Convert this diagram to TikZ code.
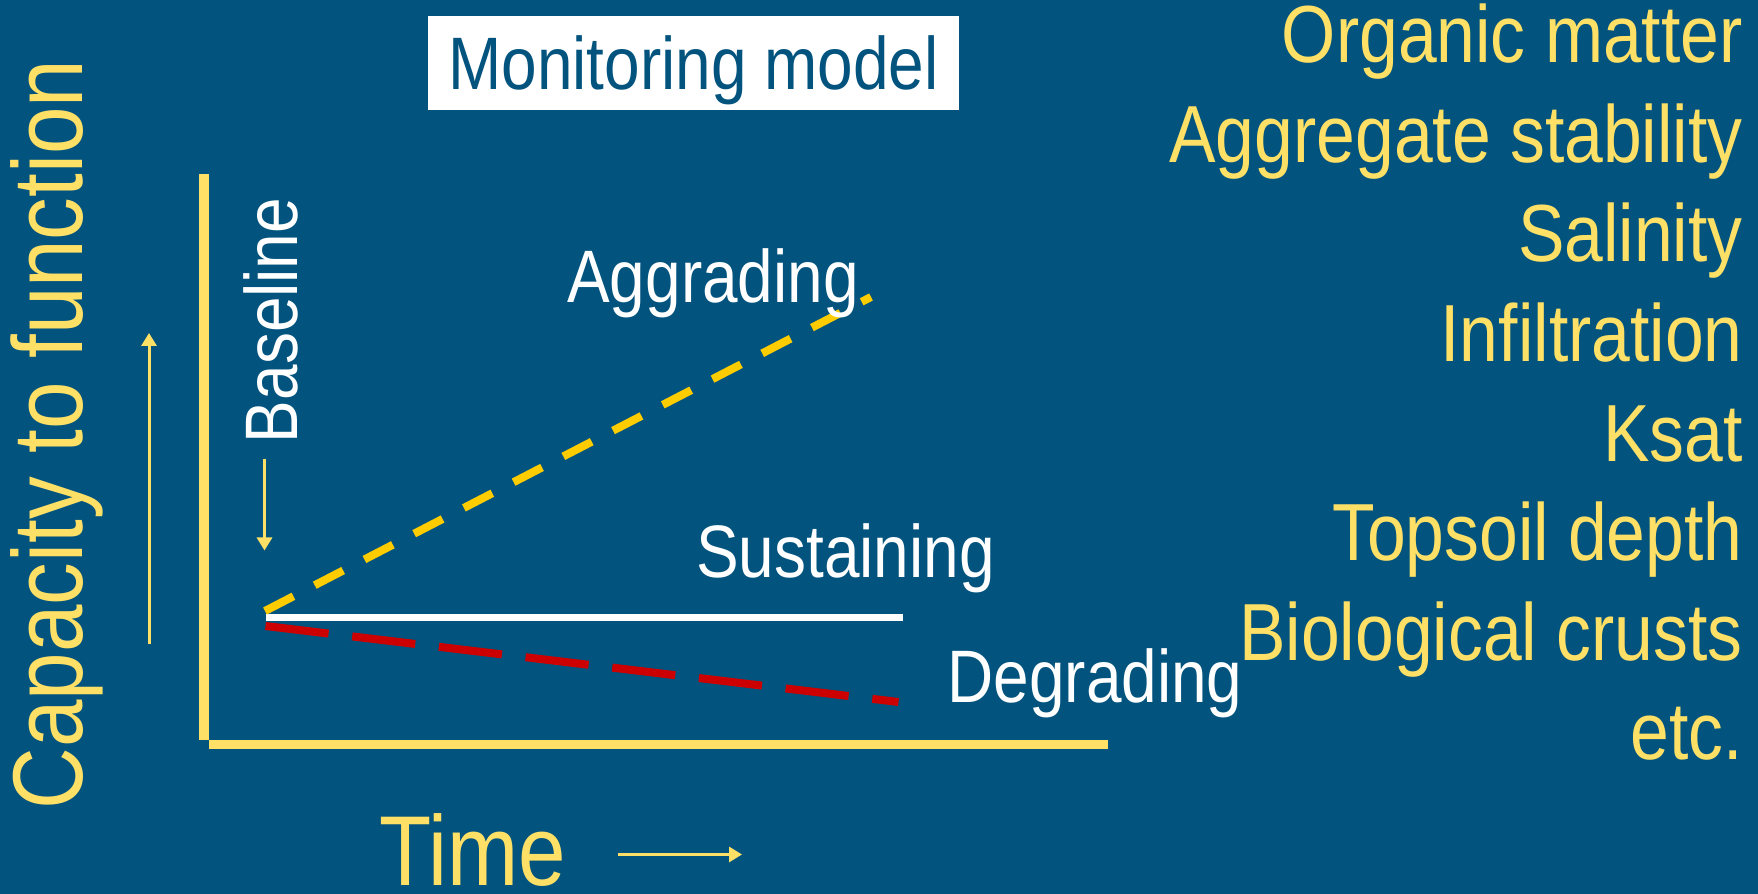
\documentclass[tikz,border=0pt]{standalone}
\usepackage{fontspec}
\setmainfont[FakeStretch=0.86]{Liberation Sans}
\usetikzlibrary{arrows.meta}
\definecolor{slideblue}{RGB}{2,84,126}
\definecolor{softyellow}{RGB}{255,224,102}
\definecolor{aggyellow}{RGB}{255,204,0}
\definecolor{degred}{RGB}{204,0,0}

\begin{document}
\begin{tikzpicture}[
	curvelabel/.style={white,font=\fontsize{42.3}{50}\selectfont,inner sep=0pt,anchor=base},
	indicator/.style={softyellow,font=\fontsize{46.1}{55}\selectfont,inner sep=0pt,anchor=base east},
	axislabel/.style={softyellow,font=\fontsize{56.5}{66}\selectfont,inner sep=0pt,anchor=base},
	thinarrow/.style={softyellow,line width=0.06cm,-{Triangle[width=0.3cm,length=0.26cm]}}]
		\useasboundingbox(0,0)rectangle(35.16,17.88);
		\fill[slideblue](0,0)rectangle(35.16,17.88);
		% axes
		\draw[softyellow,line width=0.2cm](4.08,14.4)--(4.08,3.07);
		\draw[softyellow,line width=0.18cm](4.18,2.98)--(22.16,2.98);
		\node[axislabel,rotate=90](capacity)at(1.64,9.19){Capacity to function};
		\node[axislabel](time)at(9.45,0.17){Time};
		\coordinate(upfrom)at(2.98,4.99);
		\coordinate(upto)at(2.98,11.22);
		\draw[thinarrow](upfrom)--(upto);
		\coordinate(timefrom)at(12.36,0.79);
		\coordinate(timeto)at(14.84,0.79);
		\draw[thinarrow](timefrom)--(timeto);
		% title box
		\node[fill=white,text=slideblue,font=\fontsize{42.3}{50}\selectfont,inner sep=0pt,
			text height=1.065cm,text depth=0pt,minimum width=10.62cm,minimum height=1.88cm,anchor=base]
			(title)at(13.87,16.09){Monitoring model};
		% baseline and the three paths
		\node[curvelabel,rotate=90,anchor=base](baseline)at(5.95,11.47){Baseline};
		\coordinate(basefrom)at(5.29,8.69);
		\coordinate(baseto)at(5.29,6.87);
		\draw[thinarrow](basefrom)--(baseto);
		\coordinate(aggstart)at(5.30,5.66);
		\coordinate(aggend)at(17.42,11.94);
		\coordinate(susstart)at(5.31,5.52);
		\coordinate(susend)at(18.05,5.52);
		\coordinate(degstart)at(5.31,5.36);
		\coordinate(degend)at(17.97,3.84);
		\draw[white,line width=0.14cm](susstart)--(susend);
		\draw[aggyellow,line width=0.16cm,dash pattern=on 0.64cm off 0.48cm](aggstart)--(aggend);
		\draw[degred,line width=0.16cm,dash pattern=on 1.27cm off 0.476cm](degstart)--(degend);
		\node[curvelabel](aggrading)at(14.26,11.82){Aggrading};
		\node[curvelabel](sustaining)at(16.91,6.33){Sustaining};
		\node[curvelabel](degrading)at(21.9,3.82){Degrading};
		% indicators
		\node[indicator](organic)at(34.86,16.62){Organic matter};
		\node[indicator](aggregate)at(34.86,14.63){Aggregate stability};
		\node[indicator](salinity)at(34.86,12.64){Salinity};
		\node[indicator](infiltration)at(34.86,10.64){Infiltration};
		\node[indicator](ksat)at(34.86,8.65){Ksat};
		\node[indicator](topsoil)at(34.86,6.66){Topsoil depth};
		\node[indicator](crusts)at(34.86,4.67){Biological crusts};
		\node[indicator](etc)at(34.86,2.68){etc.};
		\end{tikzpicture}
\end{document}
